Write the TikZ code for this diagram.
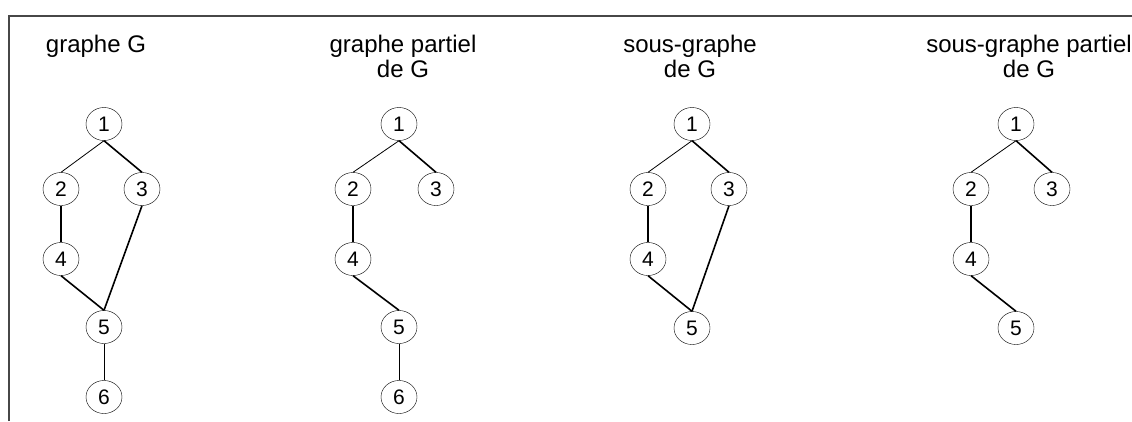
\documentclass[tikz,border=0pt]{standalone}
\usepackage{fontspec}
\setmainfont{Liberation Sans}
\usetikzlibrary{shapes.geometric}

\begin{document}
\begin{tikzpicture}[
  x=1pt, y=-1pt,
  vertex/.style={ellipse, draw, minimum width=36pt, minimum height=33pt, inner sep=0pt, font=\fontsize{21}{21}\selectfont},
  title/.style={anchor=base, align=center, inner sep=0pt, font=\fontsize{24}{25}\selectfont},
  thin edge/.style={line width=0.8pt},
  thick edge/.style={line width=1.6pt},
  frame/.style={line width=1.6pt, black!72}
]
\useasboundingbox (0,0) rectangle (1132,421);
\coordinate (corner) at (9,16);
\draw[frame] (9,421) -- (corner) -- (1132,16);

% graphe G
\node[title] (tg) at (96,52) {graphe G};
\node[vertex] (g1) at (104,124) {1};
\node[vertex] (g2) at (61,189) {2};
\node[vertex] (g3) at (142,189) {3};
\node[vertex] (g4) at (61,259) {4};
\node[vertex] (g5) at (104,327) {5};
\node[vertex] (g6) at (104,397) {6};
\draw[thin edge] (g1.south) -- (g2.north);
\draw[thick edge] (g1.south) -- (g3.north);
\draw[thick edge] (g2.south) -- (g4.north);
\draw[thick edge] (g4.south) -- (g5.north);
\draw[thick edge] (g3.south) -- (g5.north);
\draw[thin edge] (g5.south) -- (g6.north);

% graphe partiel (base = last line)
\node[title] (tp) at (403,77) {graphe partiel\\de G};
\node[vertex] (p1) at (399,124) {1};
\node[vertex] (p2) at (353,189) {2};
\node[vertex] (p3) at (436,189) {3};
\node[vertex] (p4) at (353,259) {4};
\node[vertex] (p5) at (399,327) {5};
\node[vertex] (p6) at (399,397) {6};
\draw[thin edge] (p1.south) -- (p2.north);
\draw[thick edge] (p1.south) -- (p3.north);
\draw[thick edge] (p2.south) -- (p4.north);
\draw[thick edge] (p4.south) -- (p5.north);
\draw[thin edge] (p5.south) -- (p6.north);

% sous-graphe
\node[title] (ts) at (690,77) {sous-graphe\\de G};
\node[vertex] (s1) at (692,124) {1};
\node[vertex] (s2) at (648,189) {2};
\node[vertex] (s3) at (729,189) {3};
\node[vertex] (s4) at (648,259) {4};
\node[vertex] (s5) at (692,328) {5};
\draw[thin edge] (s1.south) -- (s2.north);
\draw[thick edge] (s1.south) -- (s3.north);
\draw[thick edge] (s2.south) -- (s4.north);
\draw[thick edge] (s4.south) -- (s5.north);
\draw[thick edge] (s3.south) -- (s5.north);

% sous-graphe partiel
\node[title] (tsp) at (1029,77) {sous-graphe partiel\\de G};
\node[vertex] (sp1) at (1016,124) {1};
\node[vertex] (sp2) at (971,189) {2};
\node[vertex] (sp3) at (1052,189) {3};
\node[vertex] (sp4) at (971,259) {4};
\node[vertex] (sp5) at (1016,328) {5};
\draw[thin edge] (sp1.south) -- (sp2.north);
\draw[thick edge] (sp1.south) -- (sp3.north);
\draw[thick edge] (sp2.south) -- (sp4.north);
\draw[thick edge] (sp4.south) -- (sp5.north);
\end{tikzpicture}
\end{document}
